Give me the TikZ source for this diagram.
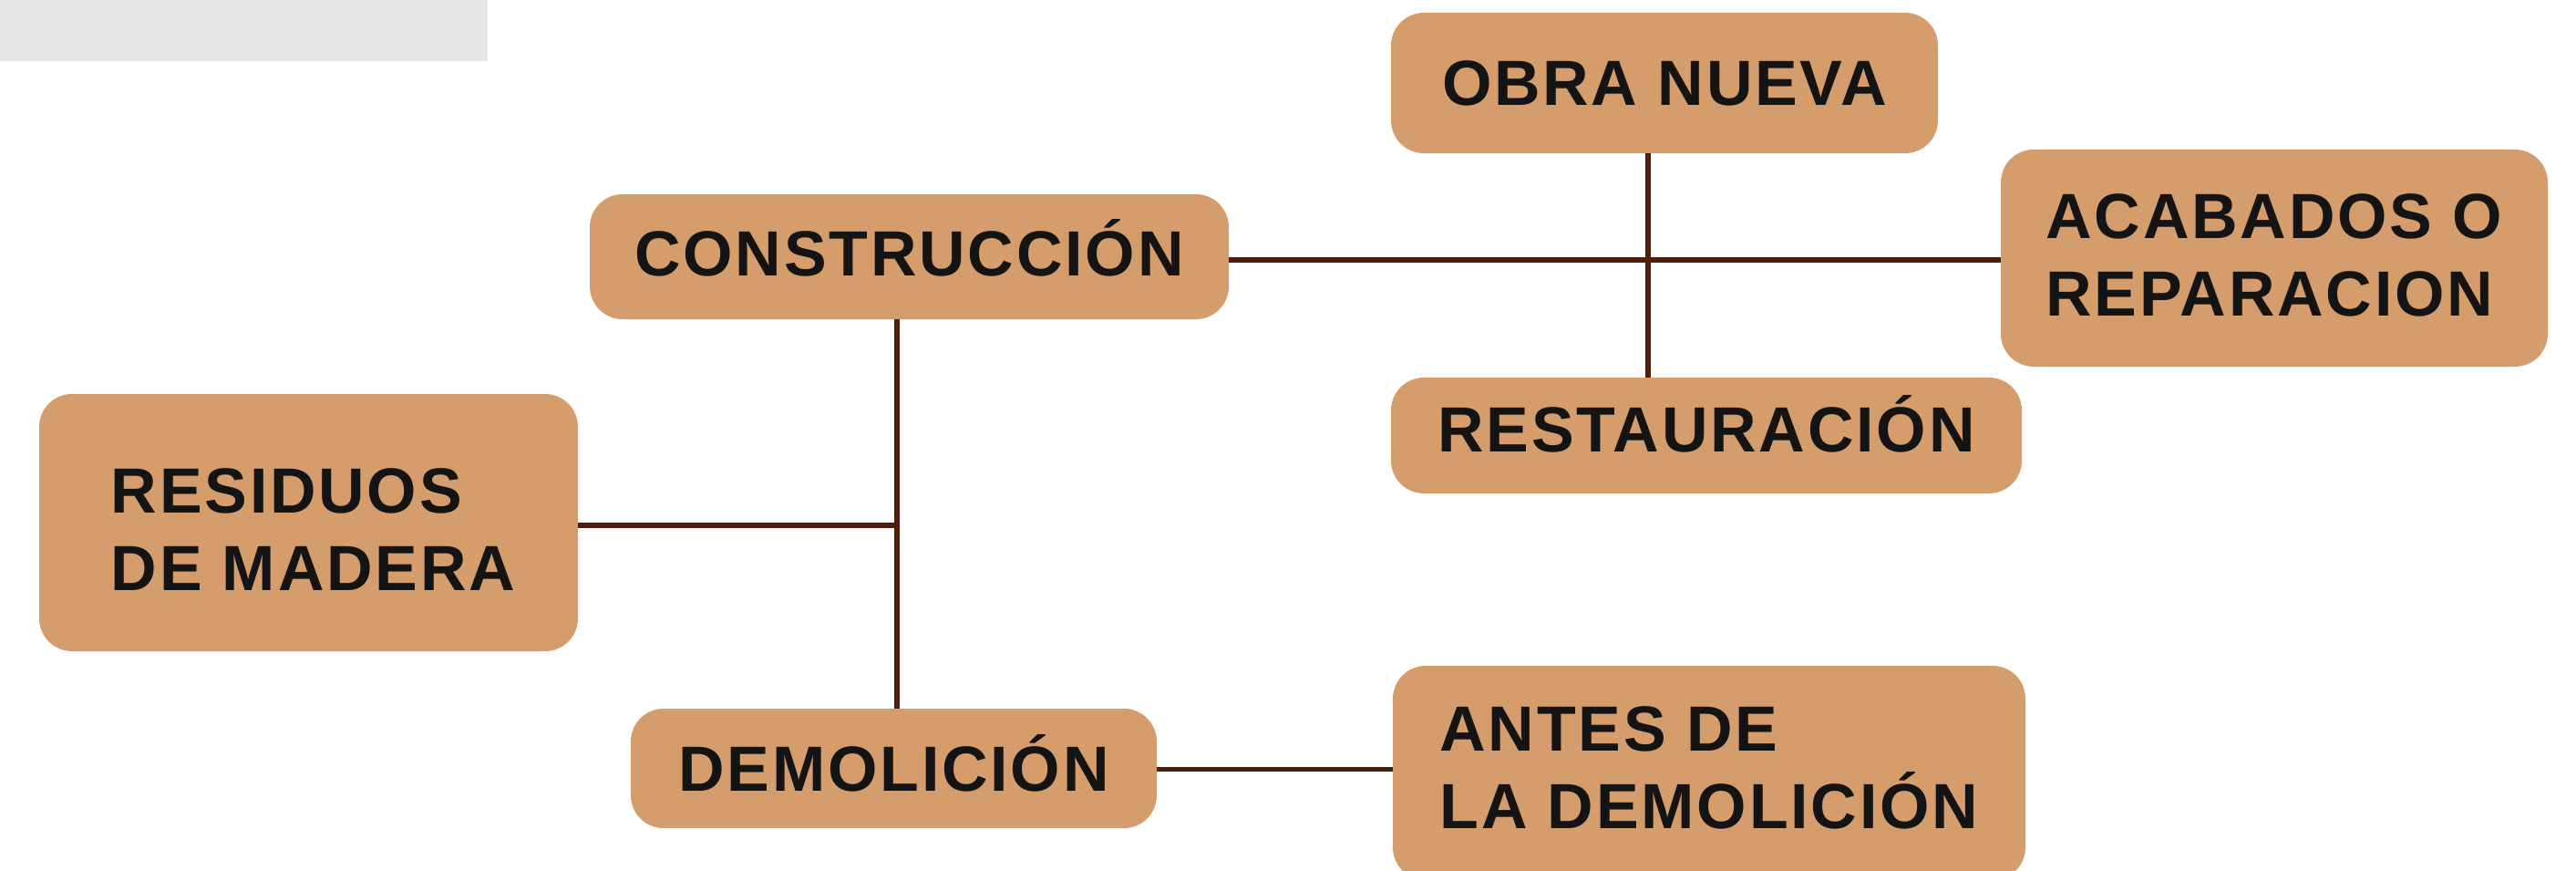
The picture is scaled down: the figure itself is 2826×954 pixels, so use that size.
\documentclass[tikz,border=0pt]{standalone}
\usepackage{fontspec}
\newfontfamily\boxfont{Liberation Sans Bold}[LetterSpace=4]
\begin{document}
\begin{tikzpicture}[x=1pt,y=-1pt,
  box/.style={fill=boxfill, rounded corners=36pt, inner sep=0pt,
    text=txt, font=\boxfont\fontsize{70}{85}\selectfont,
    text height=50pt, text depth=0pt},
  twoline/.style={align=left, text height=135pt, text depth=0pt},
  link/.style={draw=linkc, line width=5.5pt}]
\definecolor{boxfill}{RGB}{213,157,108}
\definecolor{linkc}{RGB}{78,30,8}
\definecolor{txt}{RGB}{20,20,20}
\definecolor{graybar}{RGB}{230,230,230}
\useasboundingbox (0,0) rectangle (2826,954);
\fill[graybar] (0,0) rectangle (535,67);
\node[box, minimum width=600pt, minimum height=154pt, text depth=2pt] (obra) at (1826,91) {OBRA NUEVA};
\node[box, minimum width=701pt, minimum height=137pt, text depth=8pt] (constr) at (997.5,281.5) {CONSTRUCCIÓN};
\node[box, twoline, minimum width=600pt, minimum height=238pt, text depth=8pt] (acab) at (2495,283) {ACABADOS O\\REPARACION};
\node[box, minimum width=692pt, minimum height=127pt, text depth=14pt] (rest) at (1872,477.5) {RESTAURACIÓN};
\node[box, twoline, minimum width=591pt, minimum height=282pt, text height=149pt] (resid) at (338.5,573) {\hspace*{10pt}RESIDUOS\\\hspace*{10pt}DE MADERA};
\node[box, minimum width=577pt, minimum height=131pt] (demol) at (980.5,842.5) {DEMOLICIÓN};
\node[box, twoline, minimum width=694pt, minimum height=235pt, text height=121pt] (antes) at (1875,847.5) {ANTES DE\\LA DEMOLICIÓN};
\coordinate (vA) at (1808,0);
\coordinate (vB) at (984,0);
\coordinate (hA) at (0,285);
\coordinate (hB) at (0,576);
\coordinate (hC) at (0,843.5);
\draw[link] (constr.east |- hA) -- (acab.west |- hA);
\draw[link] (obra.south -| vA) -- (rest.north -| vA);
\draw[link] (constr.south -| vB) -- (demol.north -| vB);
\draw[link] (resid.east |- hB) -- (vB |- hB);
\draw[link] (demol.east |- hC) -- (antes.west |- hC);
\end{tikzpicture}
\end{document}
